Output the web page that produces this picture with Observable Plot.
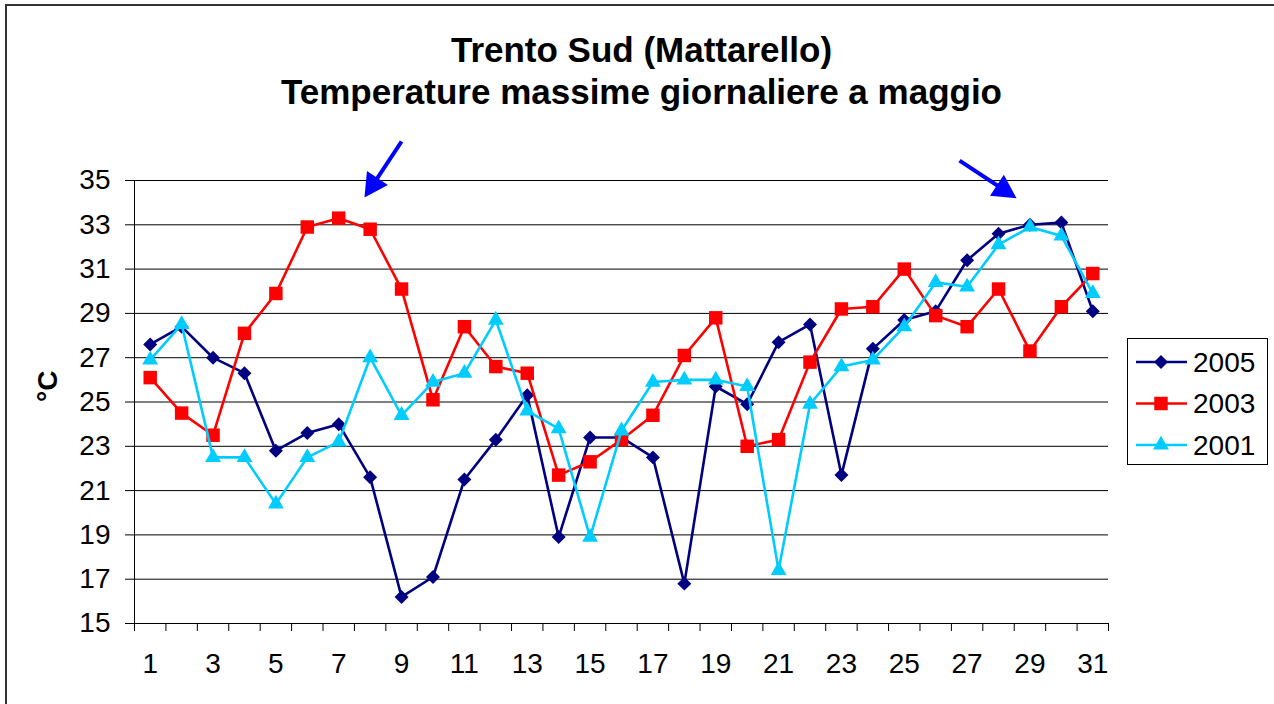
<!DOCTYPE html>
<html><head><meta charset="utf-8">
<script src="https://cdn.jsdelivr.net/npm/d3@7"></script>
<script src="https://cdn.jsdelivr.net/npm/@observablehq/plot@0.6"></script>
<style>
html,body{margin:0;padding:0;background:#fff;overflow:hidden}
#wrap{position:relative;width:1274px;height:704px;font-family:"Liberation Sans",Arial,sans-serif;overflow:hidden}
#frame{position:absolute;left:5px;top:4px;width:1300px;height:740px;border-top:2px solid #333;border-left:2px solid #333;}
#title{position:absolute;left:0;width:1283px;top:29px;text-align:center;font-weight:bold;font-size:35px;line-height:42px;color:#000}
#chart{position:absolute;left:0;top:0}
#legend{position:absolute;left:1126px;top:337px}
</style></head>
<body>
<div id="wrap">
  <div id="frame"></div>
  <div id="chart"></div>
  <div id="title">Trento Sud (Mattarello)<br>Temperature massime giornaliere a maggio</div>
  <div id="legend"></div>
</div>
<script>
const days = [1,2,3,4,5,6,7,8,9,10,11,12,13,14,15,16,17,18,19,20,21,22,23,24,25,26,27,28,29,30,31];
const t2005 = [27.6,28.4,27.0,26.3,22.8,23.6,24.0,21.6,16.2,17.1,21.5,23.3,25.3,18.9,23.4,23.4,22.5,16.8,25.7,24.9,27.7,28.5,21.7,27.4,28.7,29.1,31.4,32.6,33.0,33.1,29.1];
const t2003 = [26.1,24.5,23.5,28.1,29.9,32.9,33.3,32.8,30.1,25.1,28.4,26.6,26.3,21.7,22.3,23.3,24.4,27.1,28.8,23.0,23.3,26.8,29.2,29.3,31.0,28.9,28.4,30.1,27.3,29.3,30.8];
const t2001 = [26.9,28.5,22.5,22.5,20.4,22.5,23.2,27.0,24.4,25.9,26.3,28.7,24.6,23.8,18.9,23.7,25.9,26.0,26.0,25.7,17.4,24.9,26.6,26.9,28.4,30.4,30.2,32.1,32.9,32.5,29.9];
const seriesNames = ["2005","2003","2001"];
const seriesValues = [t2005, t2003, t2001];
const seriesColors = ["#000080","#FF0000","#00CCFF"];
const seriesSymbols = ["diamond2","square","triangle"];
const seriesR = [6.3, 7.6, 5.9];
const yTicks = [15,17,19,21,23,25,27,29,31,33,35];
const xTickLabels = [1,3,5,7,9,11,13,15,17,19,21,23,25,27,29,31];
const yLabel = "°C";
// annotation arrows (day, °C)
const arrowFromX = [9.0, 26.76];
const arrowFromY = [36.76, 35.9];
const arrowToX = [7.96, 28.36];
const arrowToY = [34.53, 34.4];

const xBoundaries = d3.range(0.5, days.length + 1, 1);
const arrows = arrowFromX.map((d, i) => ({x1: d, y1: arrowFromY[i], x2: arrowToX[i], y2: arrowToY[i]}));

const seriesMarks = seriesNames.flatMap((name, i) => {
  const rows = days.map((d, j) => ({day: d, t: seriesValues[i][j], series: name}));
  return [
    Plot.line(rows, {x: "day", y: "t", stroke: seriesColors[i], strokeWidth: 2.6}),
    Plot.dot(rows, {x: "day", y: "t", symbol: seriesSymbols[i], r: seriesR[i], fill: seriesColors[i], stroke: "none"})
  ];
});

const chart = Plot.plot({
  width: 1274, height: 704,
  marginLeft: 134, marginRight: 166, marginTop: 180, marginBottom: 81,
  x: {type: "linear", domain: [0.5, days.length + 0.5]},
  y: {domain: [15, 35]},
  style: {fontFamily: "'Liberation Sans', Arial, sans-serif", fontSize: "28px", color: "#000", background: "transparent", overflow: "visible"},
  marks: [
    Plot.ruleY(yTicks, {stroke: "#000", strokeWidth: 1}),
    Plot.ruleX([0.5], {stroke: "#000", strokeWidth: 1}),
    Plot.axisY({ticks: yTicks, tickSize: 9, tickPadding: 15, tickFormat: d => String(d), label: null, stroke: "#000"}),
    Plot.axisX({ticks: xBoundaries, tickSize: 8, tickFormat: () => "", label: null, stroke: "#000"}),
    Plot.axisX({ticks: xTickLabels, tickSize: 0, tickPadding: 30, tickFormat: d => String(d), label: null}),
    Plot.text([yLabel], {text: d => d, frameAnchor: "left", dx: -86, rotate: -90, fontWeight: "bold", fontSize: 28}),
    ...seriesMarks,
    Plot.link(arrows, {x1: "x1", y1: "y1", x2: "x2", y2: "y2", stroke: "#0000FF", strokeWidth: 4, markerEnd: "arrow"})
  ]
});

d3.select(chart).selectAll("marker").each(function() {
  const m = d3.select(this);
  m.attr("overflow", "visible").attr("fill", "#0000FF").attr("stroke", "none");
  m.selectAll("*").remove();
  m.append("path").attr("d", "M3,0L-5.8,-4.7L-5.8,4.7Z");
});
document.getElementById("chart").appendChild(chart);

// legend
const lg = d3.select("#legend").append("svg").attr("width", 143).attr("height", 129);
lg.append("rect").attr("x", 1.5).attr("y", 1.5).attr("width", 140).attr("height", 126)
  .attr("fill", "#fff").attr("stroke", "#000").attr("stroke-width", 1);
const symMap = {diamond2: d3.symbolDiamond2, square: d3.symbolSquare, triangle: d3.symbolTriangle};
seriesNames.forEach((name, i) => {
  const cy = 25 + i * 41.5;
  const g = lg.append("g").attr("transform", `translate(0,${cy})`);
  g.append("line").attr("x1", 10).attr("x2", 61).attr("y1", 0).attr("y2", 0)
    .attr("stroke", seriesColors[i]).attr("stroke-width", 2.6);
  g.append("path").attr("transform", "translate(35,0)")
    .attr("d", d3.symbol(symMap[seriesSymbols[i]], Math.PI * seriesR[i] * seriesR[i])())
    .attr("fill", seriesColors[i]);
  g.append("text").attr("x", 67).attr("y", 0).attr("dy", "0.35em")
    .attr("font-family", "'Liberation Sans', Arial, sans-serif").attr("font-size", 28)
    .attr("fill", "#000").text(name);
});
</script>
</body></html>
